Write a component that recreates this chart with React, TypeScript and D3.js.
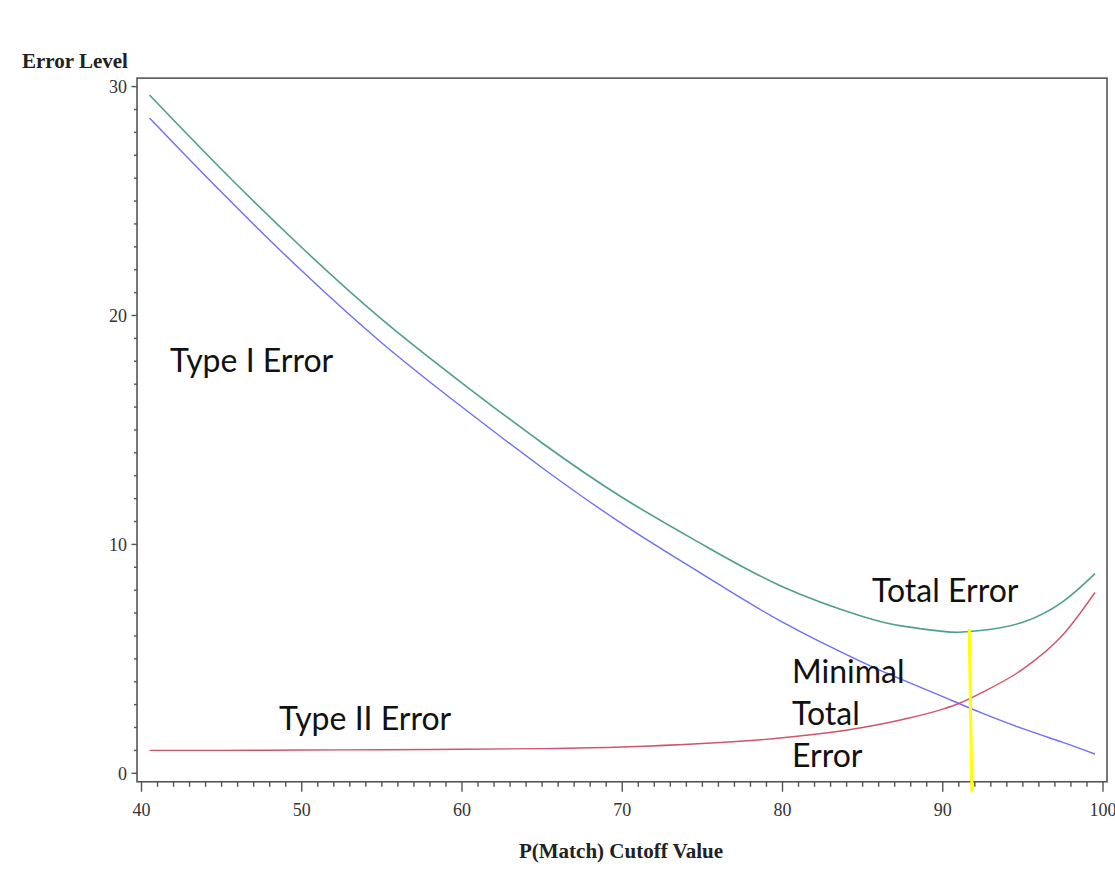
import React from "react";
import * as d3 from "d3";

const cutoffs = [40.5, 45, 50, 55, 60, 65, 70, 75, 80, 85, 87.5, 90, 91, 92.5, 95, 97.5, 99.5];
const typeIError = [28.63, 25.38, 21.95, 18.8, 16.0, 13.35, 10.9, 8.7, 6.6, 4.85, 4.08, 3.35, 3.05, 2.62, 1.95, 1.35, 0.84];
const typeIIError = [1.0, 1.0, 1.02, 1.03, 1.05, 1.08, 1.15, 1.3, 1.55, 2.0, 2.35, 2.8, 3.05, 3.55, 4.55, 6.05, 7.9];
const totalError = [29.63, 26.38, 22.97, 19.83, 17.05, 14.43, 12.05, 10.0, 8.15, 6.85, 6.43, 6.2, 6.16, 6.25, 6.6, 7.5, 8.72];

const xTicks = [40, 50, 60, 70, 80, 90, 100];
const yTicks = [0, 10, 20, 30];
const xMinor = d3.range(40, 101, 1);
const yMinor = d3.range(0, 31, 1);

const minimalLine = [
  { x: 91.65, y: 6.3 },
  { x: 91.82, y: -0.8 },
];

const W = 1115;
const H = 869;

export default function App() {
  const x = d3.scaleLinear().domain([40, 100]).range([141.5, 1103]);
  const y = d3.scaleLinear().domain([0, 30]).range([773.3, 86.6]);
  const left = x(39.72);
  const right = x(100.25);
  const top = y(30.37);
  const bottom = y(-0.37);

  const smooth = d3
    .line<number>()
    .x((_, i) => x(cutoffs[i]))
    .y((d) => y(d))
    .curve(d3.curveNatural);
  const mono = d3
    .line<number>()
    .x((_, i) => x(cutoffs[i]))
    .y((d) => y(d))
    .curve(d3.curveMonotoneX);

  const serif = "'Liberation Serif', 'Times New Roman', serif";
  const sans = "Lato, 'Open Sans', sans-serif";
  const axisColor = "#555";

  return (
    <svg
      width={W}
      height={H}
      style={{ position: "absolute", left: 0, top: 0, background: "#fff" }}
    >
      <rect
        x={left}
        y={top}
        width={right - left}
        height={bottom - top}
        fill="none"
        stroke={axisColor}
        strokeWidth={1.6}
      />
      {yMinor.map((v) => (
        <line
          key={"ym" + v}
          x1={left}
          x2={left - (v % 10 === 0 ? 5.5 : 3)}
          y1={y(v)}
          y2={y(v)}
          stroke={axisColor}
          strokeWidth={1.4}
        />
      ))}
      {yTicks.map((v) => (
        <text
          key={"yt" + v}
          x={left - 10}
          y={y(v)}
          dy="0.35em"
          textAnchor="end"
          fontFamily={serif}
          fontSize={18}
          fill="#333"
        >
          {v}
        </text>
      ))}
      {xMinor.map((v) => (
        <line
          key={"xm" + v}
          x1={x(v)}
          x2={x(v)}
          y1={bottom}
          y2={bottom + (v % 10 === 0 ? 10 : 5)}
          stroke={axisColor}
          strokeWidth={1.4}
        />
      ))}
      {xTicks.map((v) => (
        <text
          key={"xt" + v}
          x={x(v)}
          y={816}
          textAnchor="middle"
          fontFamily={serif}
          fontSize={18}
          fill="#333"
        >
          {v}
        </text>
      ))}
      <text x={22} y={68} fontFamily={serif} fontWeight="bold" fontSize={21} fill="#222">
        Error Level
      </text>
      <text
        x={621}
        y={858}
        textAnchor="middle"
        fontFamily={serif}
        fontWeight="bold"
        fontSize={21}
        fill="#222"
      >
        P(Match) Cutoff Value
      </text>

      <path d={smooth(totalError) || ""} fill="none" stroke="#4f9e8f" strokeWidth={1.6} />
      <path d={smooth(typeIError) || ""} fill="none" stroke="#6f6ff8" strokeWidth={1.4} />
      <path d={mono(typeIIError) || ""} fill="none" stroke="#d0546a" strokeWidth={1.4} />

      <line
        x1={x(minimalLine[0].x)}
        y1={y(minimalLine[0].y)}
        x2={x(minimalLine[1].x)}
        y2={y(minimalLine[1].y)}
        stroke="#ffff00"
        strokeWidth={3}
      />

      <g fontFamily={sans} fontSize={32} fill="#111">
        <text x={170} y={372}>Type I Error</text>
        <text x={279} y={730}>Type II Error</text>
        <text x={872} y={602}>Total Error</text>
        <text x={792} y={683}>Minimal</text>
        <text x={792} y={725}>Total</text>
        <text x={792} y={767}>Error</text>
      </g>
    </svg>
  );
}
